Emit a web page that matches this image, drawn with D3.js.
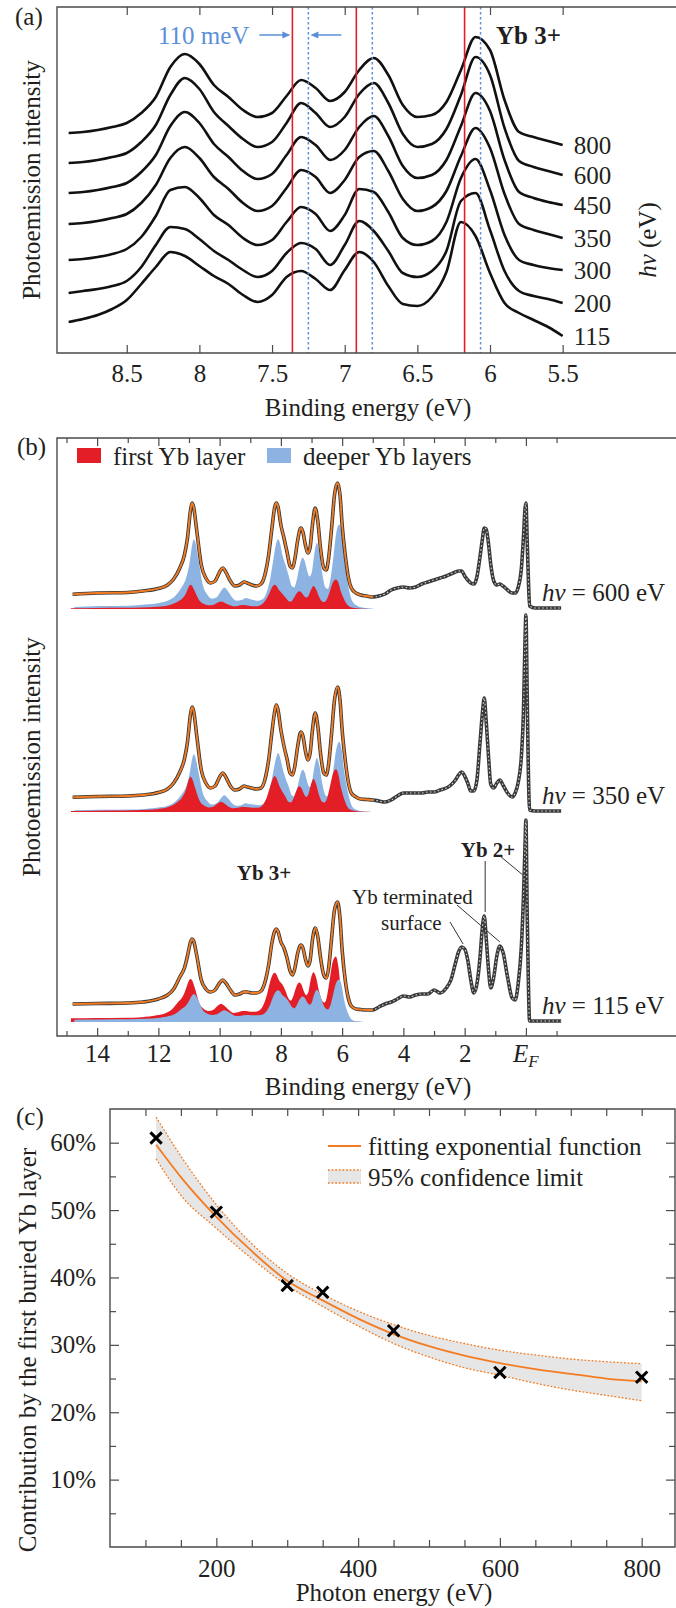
<!DOCTYPE html>
<html lang="en">
<head>
<meta charset="utf-8">
<title>Yb 4f photoemission vs photon energy</title>
<script src="https://cdn.jsdelivr.net/npm/d3@7/dist/d3.min.js"></script>
<style>
  html, body { margin: 0; padding: 0; background: #ffffff; }
  svg { display: block; }
</style>
</head>
<body>
<svg id="figure" width="676" height="1608"></svg>
<script>
// ================= (a) Yb 3+ multiplet, seven photon energies =================
const energyA = [8.9, 8.8, 8.7, 8.6, 8.5, 8.4, 8.3, 8.2, 8.1, 8.0, 7.9, 7.8, 7.7, 7.6, 7.5, 7.4, 7.3, 7.2,
                 7.1, 7.0, 6.9, 6.8, 6.7, 6.6, 6.5, 6.4, 6.3, 6.2, 6.1, 6.0, 5.9, 5.8, 5.7, 5.6, 5.5];
const photonA = [115, 200, 300, 350, 450, 600, 800];
const offsetA = [31, 60, 93, 129, 160, 190, 220];          // vertical offsets of the stacked spectra (arb. u.)
const int115A = [0, 3, 7, 13, 22, 38, 55, 70, 66, 56, 46, 38, 27, 20, 27, 45, 51, 43, 32, 52, 70, 60, 36, 18, 16, 25, 50, 100, 86, 49, 19, 9, 2, -5, -14];
const int200A = [0, 2, 4, 7, 12, 26, 48, 66, 64, 54, 42, 33, 23, 16, 22, 40, 50, 44, 28, 48, 72, 62, 42, 20, 16, 22, 42, 92, 100, 63, 22, 2, -3, -6, -10];
const int300A = [0, 1, 3, 6, 11, 23, 44, 70, 73, 62, 45, 35, 22, 15, 20, 38, 53, 46, 29, 45, 71, 68, 48, 22, 15, 19, 38, 82, 101, 70, 25, 0, -5, -8, -10];
const int350A = [0, 1, 3, 6, 10, 21, 39, 66, 77, 66, 47, 35, 21, 13, 18, 36, 54, 47, 31, 44, 67, 73, 53, 25, 13, 17, 33, 68, 96, 76, 30, 0, -6, -10, -14];
const int450A = [0, 1, 3, 6, 10, 21, 38, 67, 81, 70, 49, 36, 22, 14, 19, 38, 56, 48, 33, 43, 66, 77, 57, 27, 15, 18, 33, 67, 100, 82, 33, 1, -5, -9, -12];
const int600A = [0, 1, 3, 6, 10, 21, 38, 68, 85, 74, 51, 37, 24, 16, 21, 40, 60, 50, 36, 46, 69, 80, 60, 29, 16, 19, 34, 68, 106, 88, 35, 2, -4, -8, -12];
const int800A = [0, 1, 3, 6, 10, 20, 36, 66, 79, 69, 48, 36, 23, 16, 20, 37, 53, 45, 32, 41, 63, 75, 58, 28, 16, 18, 31, 63, 96, 83, 33, 1, -4, -8, -12];
const surfaceLinesA = [7.36, 6.92, 6.175];   // first-layer multiplet lines (eV)
const bulkLinesA = [7.25, 6.81, 6.065];      // deeper-layer multiplet lines (eV)
const ticksA = [8.5, 8, 7.5, 7, 6.5, 6, 5.5];

// ================= (b) wide scans with multiplet decomposition =================
const energyFitB = [14.8, 14.0, 13.0, 12.5, 12.0, 11.7, 11.5, 11.3, 11.15, 11.05, 10.95, 10.9, 10.85, 10.75, 10.6, 10.45,
  10.3, 10.15, 10.0, 9.9, 9.8, 9.65, 9.5, 9.35, 9.2, 9.1, 8.95, 8.8, 8.65, 8.5, 8.4, 8.3, 8.2, 8.15, 8.1, 8.0, 7.9, 7.8,
  7.7, 7.62, 7.55, 7.45, 7.35, 7.28, 7.2, 7.12, 7.05, 6.97, 6.88, 6.8, 6.7, 6.6, 6.52, 6.45, 6.35, 6.25, 6.15, 6.07,
  6.0, 5.9, 5.8, 5.7, 5.55, 5.4, 5.2, 5.0];
const energyValB = [4.8, 4.6, 4.4, 4.2, 4.0, 3.8, 3.6, 3.4, 3.2, 3.0, 2.8, 2.6, 2.45, 2.3, 2.2, 2.1, 2.0, 1.9, 1.8, 1.7,
  1.6, 1.5, 1.42, 1.36, 1.3, 1.22, 1.15, 1.05, 0.95, 0.85, 0.75, 0.6, 0.45, 0.35, 0.25, 0.15, 0.08, 0.03, 0.0, -0.04,
  -0.08, -0.12, -0.3, -0.6, -0.9, -1.15];
const photonB = [115, 350, 600];
const offsetB = [14, 224, 427];       // vertical offsets of the stacked spectra (arb. u.)
const backgroundB = [12, 12, 12];     // constant background under the 4f multiplet fit
const surfaceShiftB = 0.11;           // first-layer component sits 110 meV deeper

const fit115B = [18, 18.5, 19, 20, 23, 27, 33, 45, 54, 66, 80, 83, 81, 67, 42, 33, 30, 32, 39, 42, 39, 32, 27, 28, 30, 30,
  29, 29, 31, 42, 57, 78, 91, 93, 91, 80, 74, 64, 51, 47, 53, 69, 77, 74, 63, 56, 61, 82, 94, 86, 63, 47, 44, 52, 82, 112,
  120, 104, 72, 42, 24, 16, 13, 12.5, 12, 12];
const fit350B = [14.7, 15.5, 16, 17, 19.5, 23, 29, 40, 53, 70, 98, 105, 101, 77, 42, 29, 24, 26, 35, 39, 35, 26, 22, 23,
  26, 25, 24, 23, 24, 35, 52, 78, 101, 107, 103, 82, 66, 53, 39, 37, 45, 66, 80, 76, 61, 52, 58, 82, 99, 87, 57, 39, 37,
  46, 77, 112, 125, 112, 82, 52, 30, 19, 15, 13, 12.5, 12];
const fit600B = [14.7, 16, 16.5, 18, 20.5, 24, 30, 41, 54, 71, 99, 106, 102, 79, 44, 31, 26, 28, 37, 41, 37, 28, 23, 24,
  27, 26, 24, 23, 25, 37, 54, 79, 102, 106, 103, 84, 71, 57, 43, 41, 49, 69, 81, 77, 64, 56, 61, 84, 101, 89, 59, 41, 39,
  49, 79, 114, 126, 114, 84, 54, 32, 21, 16, 14, 13, 12];

// measured intensities on energyFitB followed by energyValB
const counts115B = [18, 18.5, 19, 20, 23, 27, 33, 45, 54, 66, 80, 83, 81, 67, 42, 33, 30, 32, 39, 42, 39, 32, 27, 28, 30, 30,
  29, 29, 31, 42, 57, 78, 91, 93, 91, 80, 74, 64, 51, 47, 53, 69, 77, 74, 63, 56, 61, 82, 94, 86, 63, 47, 44, 52, 82, 112,
  120, 104, 72, 42, 24, 16, 13, 12.5, 12, 12,
  15, 18, 20, 23, 26, 25, 27, 28, 28, 32, 29, 34, 42, 59, 70, 75, 73, 62, 42, 29, 38, 64, 95, 106, 85, 52, 34, 45, 66, 76,
  70, 45, 24, 22, 39, 75, 125, 175, 202, 110, 40, 1, 1, 1, 1, 1];
const counts350B = [14.7, 15.5, 16, 17, 19.5, 23, 29, 40, 53, 70, 98, 105, 101, 77, 42, 29, 24, 26, 35, 39, 35, 26, 22, 23,
  26, 25, 24, 23, 24, 35, 52, 78, 101, 107, 103, 82, 66, 53, 39, 37, 45, 66, 80, 76, 61, 52, 58, 82, 99, 87, 57, 39, 37,
  46, 77, 112, 125, 112, 82, 52, 30, 19, 15, 13, 12.5, 12,
  11, 10, 12, 16, 19, 19, 19, 19, 20, 20, 22, 24, 27, 32, 37, 40, 36, 29, 21, 21, 32, 69, 99, 114, 92, 55, 28, 24, 29, 32,
  27, 19, 15, 19, 30, 55, 100, 170, 197, 120, 40, 2, 1, 1, 1, 1];
const counts600B = [14.7, 16, 16.5, 18, 20.5, 24, 30, 41, 54, 71, 99, 106, 102, 79, 44, 31, 26, 28, 37, 41, 37, 28, 23, 24,
  27, 26, 24, 23, 25, 37, 54, 79, 102, 106, 103, 84, 71, 57, 43, 41, 49, 69, 81, 77, 64, 56, 61, 84, 101, 89, 59, 41, 39,
  49, 79, 114, 126, 114, 84, 54, 32, 21, 16, 14, 13, 12,
  13, 15, 19, 21, 22, 21, 22, 25, 27, 29, 31, 33, 35, 37, 38, 38, 33, 29, 26, 25, 32, 52, 70, 81, 80, 65, 45, 28, 24, 25,
  23, 19, 16, 16, 22, 40, 72, 100, 106, 70, 30, 3, 1, 1, 1, 1];
const ticksB = [14, 12, 10, 8, 6, 4, 2, 0];
const minorTicksB = [15, 13, 11, 9, 7, 5, 3, 1, -1];

// ================= (c) weight of the first buried Yb layer =================
const photonC = [115, 200, 300, 350, 450, 600, 800];
const shareC = [60.7, 49.7, 38.8, 37.8, 32.1, 25.9, 25.2];
const fitEnergyC = [115, 150, 200, 250, 300, 350, 400, 450, 500, 550, 600, 650, 700, 750, 800];
const fitShareC = [59.7, 54.9, 49.0, 43.9, 39.5, 36.6, 33.9, 31.6, 29.8, 28.4, 27.3, 26.4, 25.7, 25.0, 24.6];
const upperC = [63.8, 58.0, 50.8, 45.0, 40.6, 37.5, 35.0, 33.0, 31.4, 30.2, 29.2, 28.5, 27.9, 27.5, 27.2];
const lowerC = [57.6, 52.2, 47.3, 42.8, 38.8, 35.7, 32.8, 30.2, 28.2, 26.6, 25.5, 24.3, 23.3, 22.5, 21.7];
const xTicksC = [200, 400, 600, 800];
const xMinorC = [100, 150, 250, 300, 350, 450, 500, 550, 650, 700, 750];
const yTicksC = [10, 20, 30, 40, 50, 60];
const yMinorC = [5, 15, 25, 35, 45, 55];

// ================= styling =================
const FONT = '"Liberation Serif", "Times New Roman", serif';
const INK = '#231f20';
const FRAME = '#4a4a4a';
const RED = '#e31e26';
const BLUE = '#8db3e2';
const ORANGE = '#f47b20';
const LINE_BLUE = '#5b8fd8';

const svg = d3.select('#figure').attr('fill', INK);

function styleAxis(g) {
  g.attr('font-family', null).attr('font-size', 25).attr('color', INK);
  g.select('.domain').remove();
  g.selectAll('.tick line').attr('stroke', FRAME).attr('stroke-width', 1.2);
}
function frame(g, x0, x1, y0, y1, closeRight) {
  const d = closeRight ? `M${x0},${y0}H${x1}V${y1}H${x0}Z` : `M${x1},${y0}H${x0}V${y1}H${x1}`;
  g.append('path').attr('d', d).attr('fill', 'none').attr('stroke', FRAME).attr('stroke-width', 1.4);
}
function rotatedTitle(cx, cy, txt, size) {
  svg.append('text').attr('transform', `translate(${cx},${cy}) rotate(-90)`)
    .attr('text-anchor', 'middle').attr('dy', '0.35em').attr('font-size', size || 25).text(txt);
}

// ---------------- panel (a) ----------------
{
  const g = svg.append('g');
  const xA = d3.scaleLinear().domain([8.98, 4.72]).range([57, 676]);
  const yA = d3.scaleLinear().domain([0, 346]).range([353, 7]);
  const [L, R] = xA.range();
  const [B, T] = yA.range();

  const seriesA = [int115A, int200A, int300A, int350A, int450A, int600A, int800A];
  seriesA.forEach((s, k) => {
    const line = d3.line().x((d, i) => xA(energyA[i])).y(d => yA(d + offsetA[k])).curve(d3.curveMonotoneX);
    g.append('path').attr('d', line(s)).attr('fill', 'none').attr('stroke', '#111')
      .attr('stroke-width', 2.6).attr('stroke-linejoin', 'round');
    g.append('text').attr('x', xA(energyA[energyA.length - 1]) + 11)
      .attr('y', yA(s[s.length - 1] + offsetA[k]) + 9).attr('font-size', 25).text(photonA[k]);
  });

  surfaceLinesA.forEach(e => g.append('line').attr('x1', xA(e)).attr('x2', xA(e)).attr('y1', T).attr('y2', B)
    .attr('stroke', RED).attr('stroke-width', 1.6));
  bulkLinesA.forEach(e => g.append('line').attr('x1', xA(e)).attr('x2', xA(e)).attr('y1', T).attr('y2', B)
    .attr('stroke', LINE_BLUE).attr('stroke-width', 1.5).attr('stroke-dasharray', '2.5,2.5'));

  // 110 meV shift marker between the first surface and bulk lines
  const ay = 35;
  const xs = xA(surfaceLinesA[0]), xb = xA(bulkLinesA[0]);
  g.append('text').attr('x', xs - 43).attr('y', ay + 9).attr('text-anchor', 'end').attr('font-size', 25)
    .attr('fill', LINE_BLUE).text('110 meV');
  const arrow = (from, to) => {
    const dir = Math.sign(to - from);
    g.append('line').attr('x1', from).attr('x2', to - dir * 6).attr('y1', ay).attr('y2', ay)
      .attr('stroke', LINE_BLUE).attr('stroke-width', 1.5);
    g.append('path').attr('d', `M${to},${ay}L${to - dir * 8},${ay - 3.5}L${to - dir * 8},${ay + 3.5}Z`).attr('fill', LINE_BLUE);
  };
  arrow(xs - 33, xs - 2);
  arrow(xb + 33, xb + 2);

  g.append('text').attr('x', 496).attr('y', 44).attr('font-weight', 'bold').attr('font-size', 25).text('Yb 3+');

  g.append('g').attr('transform', `translate(0,${B})`)
    .call(d3.axisBottom(xA).tickValues(ticksA).tickSize(-8).tickPadding(11).tickFormat(d3.format('~g'))).call(styleAxis);
  g.append('g').attr('transform', `translate(0,${T})`)
    .call(d3.axisTop(xA).tickValues(ticksA).tickSize(-8).tickFormat('')).call(styleAxis);
  frame(g, L, R, T, B, false);

  g.append('text').attr('x', 368).attr('y', 416).attr('text-anchor', 'middle').attr('font-size', 25).text('Binding energy (eV)');
  g.append('text').attr('x', 15).attr('y', 25).attr('font-size', 25).text('(a)');
  rotatedTitle(31, 180, 'Photoemission intensity');
  const hv = svg.append('text').attr('transform', 'translate(647,240) rotate(-90)').attr('text-anchor', 'middle')
    .attr('dy', '0.35em').attr('font-size', 25);
  hv.append('tspan').attr('font-style', 'italic').text('hv');
  hv.append('tspan').text(' (eV)');
}

// ---------------- panel (b) ----------------
{
  const g = svg.append('g');
  const xB = d3.scaleLinear().domain([15.31, -4.9]).range([57, 676]);
  const yB = d3.scaleLinear().domain([0, 598]).range([1036, 438]);
  const [L, R] = xB.range();
  const [B, T] = yB.range();
  const energyB = energyFitB.concat(energyValB);
  const fitB = [fit115B, fit350B, fit600B];
  const countsB = [counts115B, counts350B, counts600B];

  photonB.forEach((hv, k) => {
    const off = offsetB[k];
    const share = shareC[photonC.indexOf(hv)] / 100;
    const comp = fitB[k].map(v => Math.max(v - backgroundB[k], 0));
    const layers = [
      { vals: comp.map(v => v * share), de: surfaceShiftB / 2, color: RED },
      { vals: comp.map(v => v * (1 - share)), de: -surfaceShiftB / 2, color: BLUE }
    ].sort((a, b) => d3.max(b.vals) - d3.max(a.vals));   // larger component behind
    layers.forEach(l => {
      const area = d3.area().x((d, i) => xB(energyFitB[i] + l.de)).y0(yB(off)).y1(d => yB(off + d))
        .curve(d3.curveMonotoneX);
      g.append('path').attr('d', area(l.vals)).attr('fill', l.color).attr('stroke', 'none');
    });

    const dataLine = d3.line().x((d, i) => xB(energyB[i])).y(d => yB(off + d)).curve(d3.curveMonotoneX);
    g.append('path').attr('d', dataLine(countsB[k])).attr('fill', 'none').attr('stroke', '#3a3a3a')
      .attr('stroke-width', 3.6).attr('stroke-linejoin', 'round');
    g.append('path').attr('d', dataLine(countsB[k])).attr('fill', 'none').attr('stroke', '#d6d6d6')
      .attr('stroke-width', 1.1).attr('stroke-dasharray', '1.6,2.4');

    const fitLine = d3.line().x((d, i) => xB(energyFitB[i])).y(d => yB(off + d)).curve(d3.curveMonotoneX);
    g.append('path').attr('d', fitLine(fitB[k])).attr('fill', 'none').attr('stroke', ORANGE).attr('stroke-width', 1.8);

    const t = g.append('text').attr('x', 542).attr('y', yB(off) - 8).attr('font-size', 25);
    t.append('tspan').attr('font-style', 'italic').text('hv');
    t.append('tspan').text(` = ${hv} eV`);
  });

  // annotations
  g.append('text').attr('x', 264).attr('y', 880).attr('text-anchor', 'middle').attr('font-weight', 'bold')
    .attr('font-size', 21).text('Yb 3+');
  g.append('text').attr('x', 488).attr('y', 857).attr('text-anchor', 'middle').attr('font-weight', 'bold')
    .attr('font-size', 21).text('Yb 2+');
  g.append('text').attr('x', 352).attr('y', 904).attr('font-size', 21).text('Yb terminated');
  g.append('text').attr('x', 381).attr('y', 930).attr('font-size', 21).text('surface');
  const y115 = v => yB(offsetB[0] + v);
  const leaders = [
    [450, 922, xB(2.05), y115(78)],
    [457, 905, xB(0.85), y115(80)],
    [xB(1.33), 861, xB(1.33), y115(110)],
    [500, 856, xB(0.1), 875]
  ];
  leaders.forEach(([x1, y1, x2, y2]) => g.append('line').attr('x1', x1).attr('y1', y1).attr('x2', x2).attr('y2', y2)
    .attr('stroke', '#333').attr('stroke-width', 1));

  // legend
  g.append('rect').attr('x', 77).attr('y', 448).attr('width', 24).attr('height', 15).attr('fill', RED);
  g.append('text').attr('x', 113).attr('y', 465).attr('font-size', 25).text('first Yb layer');
  g.append('rect').attr('x', 267).attr('y', 448).attr('width', 24).attr('height', 15).attr('fill', BLUE);
  g.append('text').attr('x', 303).attr('y', 465).attr('font-size', 25).text('deeper Yb layers');

  // axes
  g.append('g').attr('transform', `translate(0,${B})`)
    .call(d3.axisBottom(xB).tickValues(ticksB).tickSize(-8).tickPadding(8).tickFormat(d => d === 0 ? '' : d))
    .call(styleAxis);
  g.append('g').attr('transform', `translate(0,${B})`)
    .call(d3.axisBottom(xB).tickValues(minorTicksB).tickSize(-5).tickFormat('')).call(styleAxis);
  g.append('g').attr('transform', `translate(0,${T})`)
    .call(d3.axisTop(xB).tickValues(ticksB).tickSize(-8).tickFormat('')).call(styleAxis);
  g.append('g').attr('transform', `translate(0,${T})`)
    .call(d3.axisTop(xB).tickValues(minorTicksB).tickSize(-5).tickFormat('')).call(styleAxis);
  const ef = g.append('text').attr('x', xB(0)).attr('y', B + 26).attr('text-anchor', 'middle').attr('font-size', 25)
    .attr('font-style', 'italic');
  ef.append('tspan').text('E');
  ef.append('tspan').attr('font-size', 17).attr('dy', 5).text('F');
  frame(g, L, R, T, B, false);

  g.append('text').attr('x', 368).attr('y', 1095).attr('text-anchor', 'middle').attr('font-size', 25).text('Binding energy (eV)');
  g.append('text').attr('x', 17).attr('y', 455).attr('font-size', 25).text('(b)');
  rotatedTitle(31, 757, 'Photoemission intensity');
}

// ---------------- panel (c) ----------------
{
  const g = svg.append('g');
  const xC = d3.scaleLinear().domain([50, 847]).range([110, 675]);
  const yC = d3.scaleLinear().domain([0, 65]).range([1547, 1109]);
  const [L, R] = xC.range();
  const [B, T] = yC.range();

  const band = d3.area().x((d, i) => xC(fitEnergyC[i])).y0((d, i) => yC(lowerC[i])).y1(d => yC(d))
    .curve(d3.curveMonotoneX);
  g.append('path').attr('d', band(upperC)).attr('fill', '#e6e6e6');
  const lineC = d3.line().x((d, i) => xC(fitEnergyC[i])).y(d => yC(d)).curve(d3.curveMonotoneX);
  [upperC, lowerC].forEach(arr => g.append('path').attr('d', lineC(arr)).attr('fill', 'none').attr('stroke', ORANGE)
    .attr('stroke-width', 1.3).attr('stroke-dasharray', '1.8,1.8'));
  g.append('path').attr('d', lineC(fitShareC)).attr('fill', 'none').attr('stroke', ORANGE).attr('stroke-width', 1.8);

  photonC.forEach((e, i) => {
    const cx = xC(e), cy = yC(shareC[i]), s = 4.6;
    g.append('path').attr('d', `M${cx - s},${cy - s}L${cx + s},${cy + s}M${cx - s},${cy + s}L${cx + s},${cy - s}`)
      .attr('stroke', '#000').attr('stroke-width', 3).attr('stroke-linecap', 'square');
  });

  // legend
  g.append('line').attr('x1', 328).attr('x2', 361).attr('y1', 1146).attr('y2', 1146).attr('stroke', ORANGE).attr('stroke-width', 1.8);
  g.append('text').attr('x', 368).attr('y', 1155).attr('font-size', 25).text('fitting exponential function');
  g.append('rect').attr('x', 328).attr('y', 1170).attr('width', 33).attr('height', 13).attr('fill', '#e6e6e6');
  [1170, 1183].forEach(y => g.append('line').attr('x1', 328).attr('x2', 361).attr('y1', y).attr('y2', y)
    .attr('stroke', ORANGE).attr('stroke-width', 1.3).attr('stroke-dasharray', '1.8,1.8'));
  g.append('text').attr('x', 368).attr('y', 1186).attr('font-size', 25).text('95% confidence limit');

  // axes
  g.append('g').attr('transform', `translate(0,${B})`)
    .call(d3.axisBottom(xC).tickValues(xTicksC).tickSize(-9).tickPadding(12)).call(styleAxis);
  g.append('g').attr('transform', `translate(0,${B})`)
    .call(d3.axisBottom(xC).tickValues(xMinorC).tickSize(-7).tickFormat('')).call(styleAxis);
  g.append('g').attr('transform', `translate(0,${T})`)
    .call(d3.axisTop(xC).tickValues(xTicksC.concat(xMinorC)).tickSize(-7).tickFormat('')).call(styleAxis);
  g.append('g').attr('transform', `translate(${L},0)`)
    .call(d3.axisLeft(yC).tickValues(yTicksC).tickSize(-9).tickPadding(14).tickFormat(d => d + '%')).call(styleAxis);
  g.append('g').attr('transform', `translate(${L},0)`)
    .call(d3.axisLeft(yC).tickValues(yMinorC).tickSize(-6).tickFormat('')).call(styleAxis);
  g.append('g').attr('transform', `translate(${R},0)`)
    .call(d3.axisRight(yC).tickValues(yTicksC).tickSize(-9).tickFormat('')).call(styleAxis);
  g.append('g').attr('transform', `translate(${R},0)`)
    .call(d3.axisRight(yC).tickValues(yMinorC).tickSize(-6).tickFormat('')).call(styleAxis);
  frame(g, L, R, T, B, true);

  g.append('text').attr('x', 394).attr('y', 1601).attr('text-anchor', 'middle').attr('font-size', 25).text('Photon energy (eV)');
  g.append('text').attr('x', 16).attr('y', 1125).attr('font-size', 25).text('(c)');
  rotatedTitle(27, 1350, 'Contribution by the first buried Yb layer');
}

// one serif face for every label
svg.selectAll('text').style('font-family', FONT);
</script>
</body>
</html>
